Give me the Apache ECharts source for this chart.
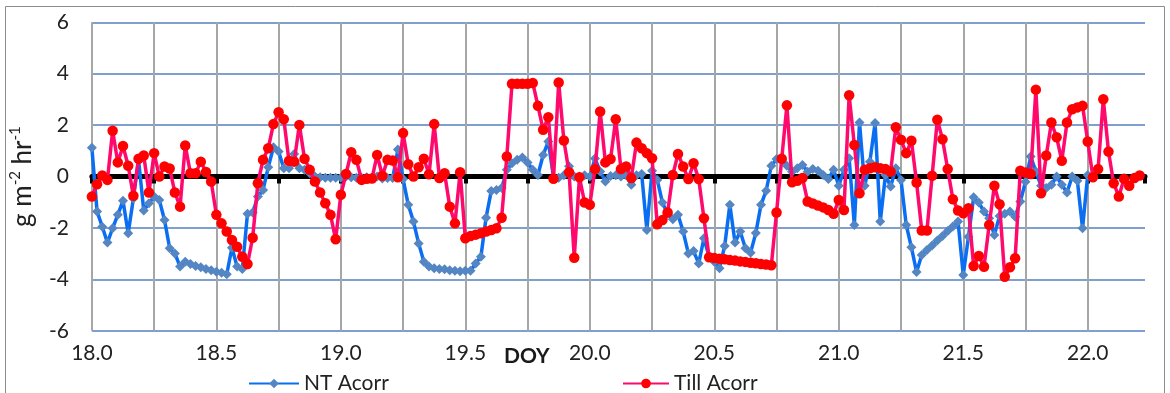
<!DOCTYPE html>
<html>
<head>
<meta charset="utf-8">
<script src="https://cdn.jsdelivr.net/npm/echarts@6/dist/echarts.min.js"></script>
<style>
    html, body { margin: 0; padding: 0; background: #fff; }
    #chart { width: 1170px; height: 393px; }
</style>
</head>
<body>
<div id="chart"></div>
<script>
// half-hourly samples starting at DOY 18.0
const doyStart = 18.0;
const stepDays = 1 / 48;

const ntAcorr = [
    1.12, -1.36, -1.95, -2.57, -2.01, -1.49, -0.94, -2.21, -0.85, 0.65,
    -1.32, -1.04, -0.78, -0.91, -1.69, -2.79, -2.99, -3.5, -3.31, -3.4,
    -3.48, -3.53, -3.6, -3.64, -3.7, -3.74, -3.8, -2.77, -3.5, -3.6,
    -1.45, -1.4, -0.78, -0.52, 0.36, 1.14, 0.97, 0.32, 0.32, 0.88,
    0.32, 0.26, 0.13, 0.0, -0.03, -0.05, -0.05, -0.05, -0.05, 0.0,
    -0.03, -0.05, -0.05, -0.03, -0.05, 0.0, -0.08, -0.06, -0.06, 1.05,
    -0.1, -1.1, -1.75, -2.6, -3.31, -3.5, -3.57, -3.6, -3.61, -3.64,
    -3.66, -3.68, -3.66, -3.66, -3.38, -3.12, -1.6, -0.56, -0.52, -0.45,
    0.26, 0.52, 0.65, 0.74, 0.55, 0.26, 0.06, 0.84, 1.36, -0.03,
    -0.05, 0.05, 0.4, 0.0, 0.0, 0.05, 0.0, 0.7, 0.2, -0.19,
    0.02, 0.05, 0.0, 0.05, -0.32, 0.05, 0.1, -2.08, 0.23, -0.13,
    -1.01, -1.45, -1.66, -1.49, -2.14, -2.99, -2.9, -3.38, -2.4, -3.12,
    -3.31, -3.57, -2.7, -1.1, -2.57, -2.14, -2.79, -2.96, -2.2, -1.1,
    -0.55, 0.42, 0.68, 0.65, 0.42, 0.19, 0.32, 0.45, 0.19, 0.29,
    0.23, 0.06, -0.1, 0.26, -0.36, 0.26, 0.71, -1.88, 2.1, -0.36,
    0.58, 2.08, -1.75, 0.06, -0.39, 0.32, -0.13, -1.88, -2.75, -3.71,
    -3.05, -2.86, -2.68, -2.49, -2.31, -2.12, -1.94, -1.75, -3.83, -2.34,
    -0.81, -1.01, -1.36, -1.62, -2.27, -1.53, -1.45, -1.36, -1.56, -0.97,
    -0.2, 0.78, 0.2, -0.36, -0.45, -0.32, 0.0, -0.32, -0.62, 0.0,
    -0.16, -2.01, 0.06
];

const tillAcorr = [
    -0.78, -0.3, 0.04, -0.13, 1.78, 0.55, 1.19, 0.42, -0.75, 0.69,
    0.82, -0.62, 0.91, 0.0, 0.39, 0.31, -0.62, -1.17, 1.21, 0.13,
    0.13, 0.58, 0.18, -0.19, -1.49, -1.82, -2.14, -2.47, -2.73, -3.12,
    -3.4, -2.38, -0.26, 0.65, 1.1, 2.04, 2.5, 2.23, 0.61, 0.58,
    2.01, 0.69, 0.26, -0.19, -0.62, -1.04, -1.49, -2.44, -0.71, 0.1,
    0.95, 0.65, -0.13, -0.09, -0.08, 0.84, 0.03, 0.65, 0.62, -0.03,
    1.69, 0.48, 0.0, 0.36, 0.69, 0.09, 2.04, -0.06, 0.13, -1.17,
    -1.82, 0.17, -2.4, -2.31, -2.26, -2.21, -2.14, -2.08, -2.01, -1.6,
    0.78, 3.61, 3.61, 3.61, 3.61, 3.64, 2.75, 1.82, 2.31, -0.09,
    3.66, 1.4, 0.17, -3.16, -0.03, -1.01, -1.1, 0.29, 2.53, 0.55,
    0.68, 2.23, 0.29, 0.39, -0.06, 1.32, 1.1, 0.91, 0.71, -1.86,
    -1.69, -1.4, 0.06, 0.88, 0.39, -0.1, 0.52, -0.1, -1.62, -3.14,
    -3.17, -3.2, -3.22, -3.25, -3.27, -3.3, -3.32, -3.35, -3.37, -3.4,
    -3.42, -3.45, -1.4, 0.69, 2.77, -0.22, -0.16, -0.06, -0.97, -1.05,
    -1.13, -1.2, -1.3, -1.45, -0.91, -1.3, 3.16, 1.23, -0.65, 0.26,
    0.32, 0.36, 0.32, 0.29, 0.19, 1.92, 1.43, 0.91, 1.39, -0.23,
    -2.1, -2.1, 0.03, 2.21, 1.45, 0.29, -0.88, -1.32, -1.43, -1.23,
    -3.48, -3.09, -3.51, -1.88, -0.36, -1.08, -3.9, -3.53, -3.18, 0.23,
    0.16, 0.1, 3.38, -0.65, 0.82, 2.1, 1.53, 0.61, 2.1, 2.62,
    2.69, 2.75, 1.36, -0.03, 0.29, 3.01, 0.97, -0.26, -0.78, -0.09,
    -0.36, -0.06, 0.04
];

const seriesNames = ['NT Acorr', 'Till Acorr'];

function toPoints(values) {
    return values.map(function (v, i) {
        return [doyStart + i * stepDays, v];
    });
}

let FONT = 'Lato';
let chart = echarts.init(document.getElementById('chart'));

let xMin = 18.0;
let xMax = 22.23;

chart.setOption({
    animation: false,
    backgroundColor: '#fff',
    textStyle: {
        fontFamily: FONT
    },
    graphic: [{
        type: 'rect',
        shape: { x: 5.5, y: 6.5, width: 1159, height: 400 },
        style: { fill: 'none', stroke: '#8c8c8c', lineWidth: 1 },
        silent: true
    }, {
        type: 'text',
        left: 504,
        top: 346,
        style: {
            text: 'DOY',
            font: 'bold 21px Lato',
            fill: '#1a1a1a'
        }
    }],
    legend: [{
        data: [seriesNames[0]],
        left: 243,
        top: 368,
        itemWidth: 50,
        itemHeight: 12,
        textStyle: { fontFamily: FONT, fontSize: 21, color: '#222' }
    }, {
        data: [seriesNames[1]],
        left: 617,
        top: 368,
        itemWidth: 46,
        itemHeight: 12,
        textStyle: { fontFamily: FONT, fontSize: 21, color: '#222' }
    }],
    grid: {
        left: 87.5,
        right: 25,
        top: 22.3,
        bottom: 62.2
    },
    xAxis: [{
        type: 'value',
        min: xMin,
        max: xMax,
        interval: 0.25,
        axisLine: { show: false, onZero: false },
        axisTick: { show: false },
        axisLabel: {
            margin: 12,
            fontFamily: FONT,
            fontSize: 21,
            color: '#222',
            showMaxLabel: false,
            formatter: function (v) {
                let twice = v * 2;
                return Math.abs(twice - Math.round(twice)) < 1e-6 ? v.toFixed(1) : '';
            }
        },
        splitLine: {
            show: true,
            showMaxLine: false,
            lineStyle: { color: '#a6a6a6', width: 2 }
        }
    }, {
        // zero line with its black ticks
        type: 'value',
        position: 'top',
        min: xMin,
        max: xMax,
        interval: 0.25,
        axisLine: {
            show: true,
            onZero: true,
            onZeroAxisIndex: 0,
            lineStyle: { color: '#000', width: 5 }
        },
        axisTick: {
            show: true,
            inside: true,
            length: 7,
            lineStyle: { color: '#000', width: 4 }
        },
        axisLabel: { show: false },
        splitLine: { show: false }
    }],
    yAxis: {
        type: 'value',
        min: -6,
        max: 6,
        interval: 2,
        name: 'g m{sup|-2} hr{sup|-1}',
        nameLocation: 'middle',
        nameGap: 34,
        nameTextStyle: {
            fontFamily: FONT,
            fontSize: 26,
            color: '#222',
            lineHeight: 30,
            rich: {
                sup: {
                    fontFamily: FONT,
                    fontSize: 15,
                    color: '#222',
                    verticalAlign: 'top',
                    lineHeight: 30
                }
            }
        },
        axisLine: { show: false },
        axisTick: { show: false },
        axisLabel: {
            margin: 23,
            fontFamily: FONT,
            fontSize: 21,
            color: '#222'
        },
        splitLine: {
            lineStyle: { color: '#7f9fcf', width: 2 }
        }
    },
    series: [{
        name: seriesNames[0],
        type: 'line',
        xAxisIndex: 0,
        data: toPoints(ntAcorr),
        symbol: 'diamond',
        symbolSize: 10,
        showSymbol: true,
        showAllSymbol: true,
        lineStyle: { color: '#0a6ef2', width: 3.5 },
        itemStyle: { color: '#5486c4' },
        z: 3
    }, {
        name: seriesNames[1],
        type: 'line',
        xAxisIndex: 0,
        data: toPoints(tillAcorr),
        symbol: 'circle',
        symbolSize: 10.5,
        showSymbol: true,
        showAllSymbol: true,
        lineStyle: { color: '#ff0a6c', width: 3.5 },
        itemStyle: { color: '#ff0000' },
        z: 4
    }]
});
</script>
</body>
</html>
